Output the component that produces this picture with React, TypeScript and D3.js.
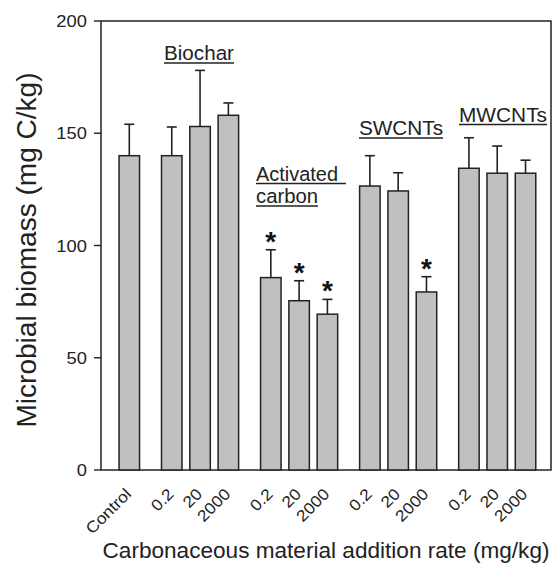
import React from 'react';
import * as d3 from 'd3';

// values
const labels = ['Control', '0.2', '20', '2000', '0.2', '20', '2000', '0.2', '20', '2000', '0.2', '20', '2000'];
const slots = [0, 1.5, 2.5, 3.5, 5, 6, 7, 8.5, 9.5, 10.5, 12, 13, 14];
const means = [140, 140, 153, 158, 85.7, 75.4, 69.4, 126.5, 124.3, 79.3, 134.4, 132.2, 132.2];
const upper = [154, 152.8, 178, 163.5, 98.1, 84.3, 76, 140, 132.4, 86.1, 148, 144.3, 138];
const starred = [false, false, false, false, true, true, true, false, false, true, false, false, false];
const yTicks = [0, 50, 100, 150, 200];
const groupNames = [['Biochar'], ['Activated', 'carbon'], ['SWCNTs'], ['MWCNTs']];

// where the group headings sit (x start, baseline, text length, underline length)
const groupLayout = [
  [{ x: 164, y: 60, len: 70, ul: 70 }],
  [{ x: 256, y: 180.5, len: 82, ul: 90 }, { x: 256, y: 203, len: 62, ul: 62 }],
  [{ x: 359, y: 135, len: 84, ul: 84 }],
  [{ x: 459, y: 121.5, len: 88, ul: 88 }],
];

const W = 553, H = 564;
const margin = { top: 21, left: 101, right: 2, bottom: 94 };
const font = 'Arial, "Liberation Sans", Helvetica, sans-serif';
const ink = '#222';

export default function App() {
  const x = d3.scaleLinear().domain([-1, 14.9]).range([margin.left, W - margin.right]);
  const y = d3.scaleLinear().domain([0, 200]).range([H - margin.bottom, margin.top]);
  const barW = 20.5;
  const capW = 10;

  return (
    <svg width={W} height={H} style={{ position: 'absolute', left: 0, top: 0, background: '#fff' }} fontFamily={font}>
      <rect x={x(-1)} y={y(200)} width={x(14.9) - x(-1)} height={y(0) - y(200)} fill="none" stroke={ink} strokeWidth={1.5} />

      {means.map((m, i) => {
        const cx = x(slots[i]);
        return (
          <g key={i}>
            <line x1={cx} x2={cx} y1={y(m)} y2={y(upper[i])} stroke={ink} strokeWidth={1.6} />
            <line x1={cx - capW / 2} x2={cx + capW / 2} y1={y(upper[i])} y2={y(upper[i])} stroke={ink} strokeWidth={1.6} />
            <rect x={cx - barW / 2} y={y(m)} width={barW} height={y(0) - y(m)} fill="#c0c0c0" stroke={ink} strokeWidth={1.5} />
            {starred[i] && (
              <text x={cx} y={y(upper[i]) + 1} textAnchor="middle" fontSize={28} fontWeight="bold" fill="#111">*</text>
            )}
          </g>
        );
      })}

      {yTicks.map((t) => (
        <g key={t}>
          <line x1={x(-1) - 7} x2={x(-1)} y1={y(t)} y2={y(t)} stroke={ink} strokeWidth={1.4} />
          <text transform={`translate(${x(-1) - 14},${y(t)}) scale(1.08,1)`} dy="0.36em" textAnchor="end" fontSize={17} fill={ink}>{t}</text>
        </g>
      ))}

      {labels.map((l, i) => (
        <text key={i} transform={`translate(${x(slots[i]) + 3},${y(0) + 25}) rotate(-45) scale(1.1,1)`}
          textAnchor="end" fontSize={16} fill={ink}>{l}</text>
      ))}

      {groupNames.map((g, gi) => (
        <g key={gi}>
          {g.map((ln, li) => {
            const p = groupLayout[gi][li];
            return (
              <g key={li}>
                <text x={p.x} y={p.y} fontSize={20.5} fill={ink} textLength={p.len} lengthAdjust="spacingAndGlyphs">{ln}</text>
                <line x1={p.x} x2={p.x + p.ul} y1={p.y + 3} y2={p.y + 3} stroke={ink} strokeWidth={1.5} />
              </g>
            );
          })}
        </g>
      ))}

      <text transform={`translate(36,250) rotate(-90)`} textAnchor="middle" fontSize={27} fill={ink}
        textLength={355} lengthAdjust="spacingAndGlyphs">
        Microbial biomass (mg C/kg)
      </text>
      <text x={326} y={558} textAnchor="middle" fontSize={22} fill={ink} textLength={447} lengthAdjust="spacingAndGlyphs">
        Carbonaceous material addition rate (mg/kg)
      </text>
    </svg>
  );
}
